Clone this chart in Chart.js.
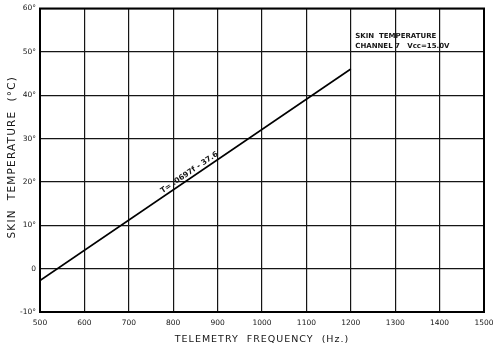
<!DOCTYPE html>
<html>
<head>
<meta charset="utf-8">
<script src="https://cdn.jsdelivr.net/npm/chart.js@4"></script>
<style>
  html, body { margin: 0; padding: 0; background: #fff; }
  #wrap { width: 493px; height: 348px; }
</style>
</head>
<body>
<div id="wrap"><canvas id="calGraph" width="493" height="348"></canvas></div>
<script>
// Calibration line, channel 7 (skin temperature)
const freqPoints = [500, 1200];          // Hz
const tempPoints = [-2.75, 46.04];       // deg C, T = .0697f - 37.6
const freqTicks = [500, 600, 700, 800, 900, 1000, 1100, 1200, 1300, 1400, 1500];
const tempTicks = [-10, 0, 10, 20, 30, 40, 50, 60];
const fitLabel = 'T= .0697f - 37.6';
const noteLines = ['SKIN  TEMPERATURE', 'CHANNEL 7   Vcc=15.0V'];
const xTitle = 'TELEMETRY  FREQUENCY  (Hz.)';
const yTitle = 'SKIN  TEMPERATURE  (°C)';

const ink = '#151515';
const tickFont = { family: 'DejaVu Sans', size: 7.5 };

// frame, axis titles and text on the graph
const extras = {
  id: 'extras',
  afterDraw(chart) {
    const { ctx, chartArea: a, scales: { x, y } } = chart;
    ctx.save();
    ctx.strokeStyle = '#000';
    ctx.lineWidth = 2;
    ctx.strokeRect(a.left, a.top, a.right - a.left, a.bottom - a.top);

    // axis titles, spaced out like stencil lettering
    ctx.fillStyle = ink;
    ctx.font = '9.5px "DejaVu Sans"';
    ctx.letterSpacing = '1px';
    ctx.textAlign = 'center';
    ctx.textBaseline = 'middle';
    ctx.fillText(xTitle, (a.left + a.right) / 2, 340);
    ctx.save();
    ctx.translate(12, (a.top + a.bottom) / 2 - 3);
    ctx.rotate(-Math.PI / 2);
    ctx.font = '10.5px "DejaVu Sans"';
    ctx.letterSpacing = '1.2px';
    ctx.fillText(yTitle, 0, 0);
    ctx.restore();
    ctx.letterSpacing = '0px';

    // equation written along the line
    const x0 = x.getPixelForValue(freqPoints[0]), y0 = y.getPixelForValue(tempPoints[0]);
    const x1 = x.getPixelForValue(freqPoints[1]), y1 = y.getPixelForValue(tempPoints[1]);
    const ang = Math.atan2(y1 - y0, x1 - x0);
    const t = 0.49;
    ctx.save();
    ctx.translate(x0 + (x1 - x0) * t, y0 + (y1 - y0) * t);
    ctx.rotate(ang);
    ctx.font = 'bold 7.5px "DejaVu Sans"';
    ctx.textBaseline = 'bottom';
    ctx.fillText(fitLabel, 0, -1.5);
    ctx.restore();

    ctx.font = 'bold 7px "DejaVu Sans"';
    ctx.textAlign = 'left';
    const nx = x.getPixelForValue(1210);
    noteLines.forEach((s, i) => ctx.fillText(s, nx, y.getPixelForValue(53.5) + i * 9.5));
    ctx.restore();
  }
};

const ctx = document.getElementById('calGraph').getContext('2d');

let myChart = new Chart(ctx, {
  type: 'scatter',
  data: {
    datasets: [{
      data: freqPoints.map((f, i) => ({ x: f, y: tempPoints[i] })),
      showLine: true,
      borderColor: '#000',
      borderWidth: 1.6,
      pointRadius: 0,
      fill: false
    }]
  },
  options: {
    responsive: false,
    animation: false,
    layout: { padding: { top: 8, right: 9, left: 0, bottom: 0 } },
    plugins: { legend: { display: false }, tooltip: { enabled: false } },
    scales: {
      x: {
        type: 'linear',
        min: 500, max: 1500,
        afterBuildTicks: s => { s.ticks = freqTicks.map(v => ({ value: v })); },
        afterFit: s => { s.height = 36; s.paddingLeft = 0; s.paddingRight = 0; },
        ticks: {
          color: ink, font: tickFont, padding: 7, maxRotation: 0, autoSkip: false,
          callback: v => String(v)
        },
        grid: { color: ink, lineWidth: 1.2, drawTicks: false },
        border: { color: '#000', width: 2 }
      },
      y: {
        type: 'linear',
        min: -10, max: 60,
        afterBuildTicks: s => { s.ticks = tempTicks.map(v => ({ value: v })); },
        afterFit: s => { s.width = 40; },
        ticks: {
          color: ink, font: tickFont, padding: 4,
          callback: v => (v === 0 ? '0' : v + '°')
        },
        grid: { color: ink, lineWidth: 1.2, drawTicks: false },
        border: { color: '#000', width: 2 }
      }
    }
  },
  plugins: [extras]
});
</script>
</body>
</html>
